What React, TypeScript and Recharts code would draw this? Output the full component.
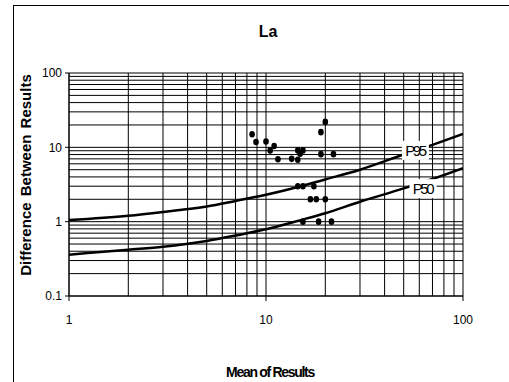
import { ComposedChart, Line, Scatter, XAxis, YAxis, ReferenceLine } from "recharts";

// scatter points
const meanX = [8.5, 8.9, 10, 11, 10.5, 11.5, 13.5, 14.5, 14.5, 15.4, 14.9, 19, 20, 19, 22, 14.5, 15.4, 17.5, 16.8, 18, 20, 15.4, 18.5, 21.5];
const diffY = [15, 11.8, 12, 10.4, 9.1, 6.9, 7, 6.8, 9.1, 9.1, 8.2, 16, 22, 8.1, 8.1, 3, 3, 3, 2, 2, 2, 1, 1, 1];

// percentile curves
const curveX = [1, 2, 3, 5, 7, 10, 15, 20, 30, 50, 70, 100];
const p95 = [1.05, 1.2, 1.35, 1.6, 1.9, 2.3, 3.0, 3.7, 5.0, 8.0, 10.8, 15.1];
const p50 = [0.36, 0.42, 0.46, 0.55, 0.65, 0.79, 1.05, 1.3, 1.85, 2.8, 3.75, 5.25];

const xTicks = [1, 10, 100];
const yTicks = [0.1, 1, 10, 100];
const xGrid = [1, 2, 3, 4, 5, 6, 7, 8, 9, 10, 20, 30, 40, 50, 60, 70, 80, 90, 100];
const yGrid = [
  0.1, 0.2, 0.3, 0.4, 0.5, 0.6, 0.7, 0.8, 0.9,
  1, 2, 3, 4, 5, 6, 7, 8, 9,
  10, 20, 30, 40, 50, 60, 70, 80, 90, 100,
];

// curve labels
const labelText = ["P95", "P50"];
const labelX = [57, 62.3];
const labelY = [9.1, 2.78];

const FONT = "'Liberation Sans', Arial, sans-serif";

const points = meanX.map((x, i) => ({ x, y: diffY[i] }));
const p95Data = curveX.map((x, i) => ({ x, y: p95[i] }));
const p50Data = curveX.map((x, i) => ({ x, y: p50[i] }));
const tags = labelText.map((t, i) => ({ x: labelX[i], y: labelY[i], t }));

const fmtTick = (v: number) => (v < 1 ? v.toFixed(1) : String(v));

function Dotty(props: any) {
  const { cx, cy } = props;
  if (cx == null || cy == null) return null;
  return <ellipse cx={cx} cy={cy} rx={2.8} ry={3.3} fill="#000" />;
}

function TagBox(props: any) {
  const { x, y, index } = props;
  if (x == null || y == null) return null;
  const t = labelText[index] ?? "";
  return (
    <g>
      <rect x={x - 13} y={y - 9.5} width={27} height={19} fill="#fff" stroke="none" />
      <text
        x={x}
        y={y}
        dy="0.36em"
        textAnchor="middle"
        fontFamily={FONT}
        fontSize={15}
        letterSpacing={-2.4}
        fill="#000"
        stroke="none"
      >
        {t}
      </text>
    </g>
  );
}

export default function App() {
  return (
    <div style={{ position: "absolute", left: 0, top: 0, width: 509, height: 382, overflow: "hidden", background: "#fff" }}>
      <div
        style={{
          position: "absolute",
          left: 13,
          top: 5,
          width: 520,
          height: 400,
          border: "1px solid #000",
          boxSizing: "border-box",
        }}
      />
      <div
        style={{
          position: "absolute",
          left: 0,
          top: 23,
          width: 536,
          textAlign: "center",
          fontFamily: FONT,
          fontWeight: "bold",
          fontSize: 16,
        }}
      >
        La
      </div>
      <div
        style={{
          position: "absolute",
          left: 26 - 120,
          top: 175 - 10,
          width: 240,
          height: 20,
          lineHeight: "20px",
          textAlign: "center",
          transform: "rotate(-90deg)",
          fontFamily: FONT,
          fontWeight: "bold",
          fontSize: 15,
          wordSpacing: 2,
        }}
      >
        Difference Between Results
      </div>
      <div
        style={{
          position: "absolute",
          left: 270 - 100,
          top: 364,
          width: 200,
          textAlign: "center",
          fontFamily: FONT,
          fontWeight: "bold",
          fontSize: 14,
          letterSpacing: -1.3,
        }}
      >
        Mean of Results
      </div>
      <div style={{ position: "absolute", left: 0, top: 0 }}>
        <ComposedChart width={509} height={382} margin={{ top: 73, right: 46, bottom: 46, left: 0 }}>
          {xGrid.map((v) => (
            <ReferenceLine key={"x" + v} x={v} stroke="#000" strokeWidth={1} />
          ))}
          {yGrid.map((v) => (
            <ReferenceLine key={"y" + v} y={v} stroke="#000" strokeWidth={1} />
          ))}
          <XAxis
            type="number"
            dataKey="x"
            scale="log"
            domain={[1, 100]}
            ticks={xTicks}
            allowDataOverflow
            height={40}
            stroke="#000"
            tickSize={5}
            tickMargin={14}
            tick={{ fill: "#000", fontSize: 12, fontFamily: FONT }}
          />
          <YAxis
            type="number"
            dataKey="y"
            scale="log"
            domain={[0.1, 100]}
            ticks={yTicks}
            allowDataOverflow
            width={69}
            stroke="#000"
            tickSize={4}
            tickMargin={3}
            tickFormatter={fmtTick}
            tick={{ fill: "#000", fontSize: 12, fontFamily: FONT }}
          />
          <Line data={p95Data} dataKey="y" type="monotone" stroke="#000" strokeWidth={2.5} dot={false} isAnimationActive={false} />
          <Line data={p50Data} dataKey="y" type="monotone" stroke="#000" strokeWidth={2.5} dot={false} isAnimationActive={false} />
          <Scatter data={points} dataKey="y" shape={<Dotty />} isAnimationActive={false} />
          <Line
            data={tags}
            dataKey="y"
            stroke="none"
            strokeWidth={0}
            dot={false}
            activeDot={false}
            label={(p: any) => <TagBox key={"tag" + p.index} {...p} />}
            isAnimationActive={false}
            {...({ zIndex: 2000 } as any)}
          />
        </ComposedChart>
      </div>
    </div>
  );
}
